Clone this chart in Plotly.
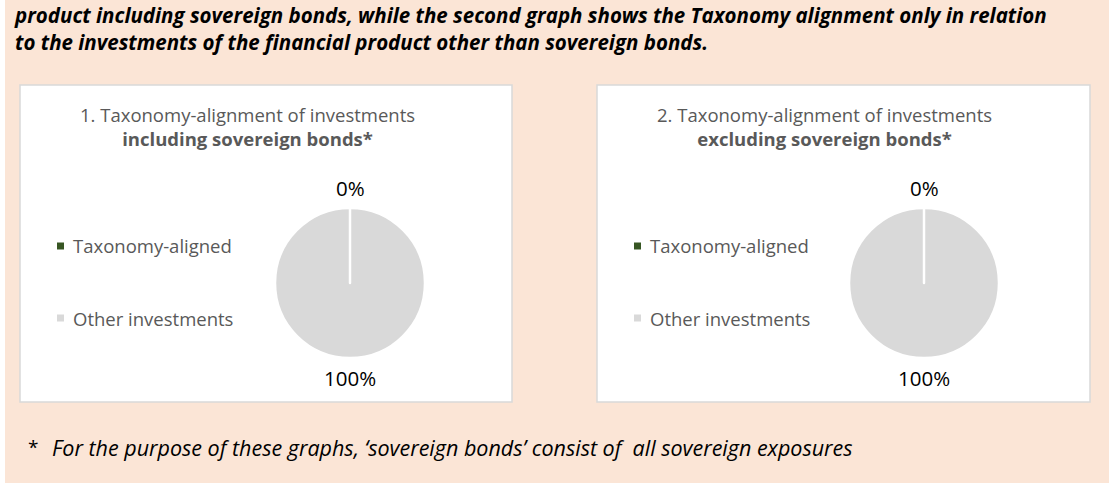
import math
import plotly.graph_objects as go

# ---------------- data ----------------
labels = ["Taxonomy-aligned", "Other investments"]
colors = ["#375623", "#D9D9D9"]
incl_values = [0, 100]
excl_values = [0, 100]
chart_titles = [
    "1. Taxonomy-alignment of investments<br><b>including sovereign bonds*</b>",
    "2. Taxonomy-alignment of investments<br><b>excluding sovereign bonds*</b>",
]
intro_text = ("<b><i>product including sovereign bonds, while the second graph shows the Taxonomy alignment only in relation"
              "<br>to the investments of the financial product other than sovereign bonds.</i></b>")
footnote_mark = "*"
footnote = "<i>For the purpose of these graphs, ‘sovereign bonds’ consist of  all sovereign exposures</i>"

W, H = 1109, 483
FONT = "'Open Sans', Lato, sans-serif"
PEACH = "#FBE5D6"


def px(x):
    return x / W


def py(y):
    return 1 - y / H


# panel layout (pixels)
panels = [
    dict(box=(20, 85, 512, 402), cx=350, cy=283, r=75, legx=57, title_cx=247),
    dict(box=(597, 85, 1090, 402), cx=924, cy=283, r=75, legx=634, title_cx=824),
]
values_list = [incl_values, excl_values]

fig = go.Figure()
shapes = []
annotations = []

shapes.append(dict(type="rect", xref="paper", yref="paper", x0=px(5), x1=1, y0=0, y1=1,
                   fillcolor=PEACH, line=dict(width=0), layer="below"))

for i, p in enumerate(panels):
    x0, y0, x1, y1 = p["box"]
    shapes.append(dict(type="rect", xref="paper", yref="paper",
                       x0=px(x0), x1=px(x1), y0=py(y1), y1=py(y0),
                       fillcolor="white", line=dict(color="#D9D9D9", width=1.5), layer="below"))
    vals = values_list[i]
    total = sum(vals)
    # order reversed so the 100% slice starts at 12 o'clock and the 0% slice sits on top
    fig.add_trace(go.Pie(
        labels=labels[::-1], values=vals[::-1],
        marker=dict(colors=colors[::-1], line=dict(color="white", width=2.5)),
        sort=False, direction="clockwise", rotation=0,
        textinfo="none",
        domain=dict(x=[px(p["cx"] - p["r"]), px(p["cx"] + p["r"])],
                    y=[py(p["cy"] + p["r"]), py(p["cy"] - p["r"])]),
        showlegend=False, hoverinfo="label+percent",
    ))
    # data labels placed outside each slice at its mid-angle (clockwise from 12 o'clock)
    cum = 0
    for lab, v in zip(labels[::-1], vals[::-1]):
        mid = (cum + v / 2) / total * 2 * math.pi
        cum += v
        rr = p["r"] + 20
        lx = p["cx"] + rr * math.sin(mid)
        ly = p["cy"] - rr * math.cos(mid)
        annotations.append(dict(xref="paper", yref="paper", x=px(lx), y=py(ly),
                                xanchor="center", yanchor="middle", showarrow=False,
                                text=f"{round(v / total * 100)}%",
                                font=dict(family=FONT, size=20.5, color="#000000")))
    annotations.append(dict(xref="paper", yref="paper", x=px(p["title_cx"]), y=py(127),
                            xanchor="center", yanchor="middle", showarrow=False,
                            text=chart_titles[i], align="center",
                            font=dict(family=FONT, size=18.5, color="#595959")))
    # legend built from labels / colors
    for j, (lab, col) in enumerate(zip(labels, colors)):
        yy = 246 + j * 72
        shapes.append(dict(type="rect", xref="paper", yref="paper",
                           x0=px(p["legx"]), x1=px(p["legx"] + 7),
                           y0=py(yy + 3.5), y1=py(yy - 3.5),
                           fillcolor=col, line=dict(width=0)))
        annotations.append(dict(xref="paper", yref="paper", x=px(p["legx"] + 14), y=py(yy),
                                xanchor="left", yanchor="middle", showarrow=False,
                                text=lab,
                                font=dict(family=FONT, size=18.5, color="#595959")))

annotations.append(dict(xref="paper", yref="paper", x=px(12), y=py(28.5),
                        xanchor="left", yanchor="middle", showarrow=False, align="left",
                        text=intro_text, font=dict(family=FONT, size=20.5, color="#000000")))
annotations.append(dict(xref="paper", yref="paper", x=px(26), y=py(447),
                        xanchor="left", yanchor="middle", showarrow=False,
                        text=footnote_mark, font=dict(family=FONT, size=19, color="#000000")))
annotations.append(dict(xref="paper", yref="paper", x=px(50), y=py(447),
                        xanchor="left", yanchor="middle", showarrow=False, align="left",
                        text=footnote, font=dict(family=FONT, size=21.5, color="#000000")))

fig.update_layout(
    width=W, height=H,
    margin=dict(l=0, r=0, t=0, b=0),
    paper_bgcolor="white", plot_bgcolor="white",
    shapes=shapes, annotations=annotations,
    showlegend=False,
    font=dict(family=FONT),
)

fig.write_html("out.html", config={"displayModeBar": False},
               post_script="document.body.style.margin='0';document.body.style.overflow='hidden';")
